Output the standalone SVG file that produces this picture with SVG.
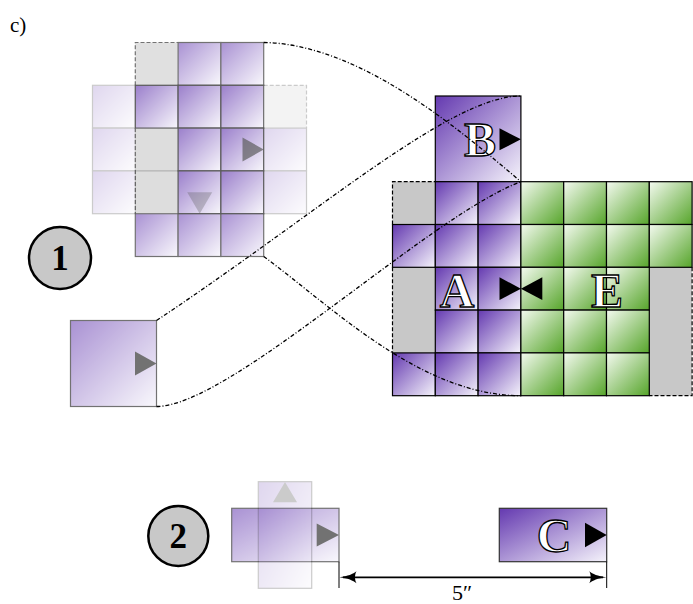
<svg xmlns="http://www.w3.org/2000/svg" width="693" height="604" viewBox="0 0 693 604">
<defs>
<linearGradient id="gP" x1="0" y1="0" x2="1" y2="1"><stop offset="0" stop-color="#6439b0"/><stop offset="1" stop-color="#f5f3fb"/></linearGradient>
<linearGradient id="gG" x1="0" y1="0" x2="1" y2="1"><stop offset="0" stop-color="#f4faf0"/><stop offset="1" stop-color="#56a52a"/></linearGradient>
<style>
.p{fill:url(#gP);stroke:#000;stroke-width:1.2}
.g{fill:url(#gG);stroke:#000;stroke-width:1.2}
.gr{fill:#c8c8c8;stroke:none}
.ds{fill:none;stroke:#000;stroke-width:1.2;stroke-dasharray:4 2}
.tri{fill:#000}
.cn{fill:none;stroke:#000;stroke-width:1.3;stroke-dasharray:4 2 1 2}
.lt{font-family:"Liberation Serif","DejaVu Serif",serif;font-size:48px;font-weight:bold;fill:#fff;stroke:#000;stroke-width:1.3;text-anchor:middle}
.num{font-family:"Liberation Serif","DejaVu Serif",serif;font-size:35px;font-weight:bold;fill:#000;text-anchor:middle}
.circ{fill:#c8c8c8;stroke:#000;stroke-width:2.5}
</style>
</defs>
<rect width="693" height="604" fill="#fff"/>
<text x="10" y="32" font-family="Liberation Serif, DejaVu Serif, serif" font-size="21">c)</text>

<!-- top-left configuration -->
<g id="top-vertical" opacity="0.55">
<rect class="gr" x="135.3" y="42.5" width="42.8" height="42.8"/>
<rect class="gr" x="135.3" y="128.1" width="42.8" height="85.6"/>
<rect class="p" x="178.1" y="42.5" width="42.8" height="42.8"/>
<rect class="p" x="220.9" y="42.5" width="42.8" height="42.8"/>
<rect class="p" x="135.3" y="85.3" width="42.8" height="42.8"/>
<rect class="p" x="178.1" y="85.3" width="42.8" height="42.8"/>
<rect class="p" x="220.9" y="85.3" width="42.8" height="42.8"/>
<rect class="p" x="178.1" y="128.1" width="42.8" height="42.8"/>
<rect class="p" x="220.9" y="128.1" width="42.8" height="42.8"/>
<rect class="p" x="178.1" y="170.9" width="42.8" height="42.8"/>
<rect class="p" x="220.9" y="170.9" width="42.8" height="42.8"/>
<rect class="p" x="135.3" y="213.7" width="42.8" height="42.8"/>
<rect class="p" x="178.1" y="213.7" width="42.8" height="42.8"/>
<rect class="p" x="220.9" y="213.7" width="42.8" height="42.8"/>
<path class="ds" d="M135.3,85.3 V42.5 H178.1 M135.3,128.1 V213.7"/>
<polygon class="tri" points="242.5,137.4 263.7,149.5 242.5,161.6"/>
</g>
<g id="top-horizontal" opacity="0.2">
<rect class="p" x="92.5" y="85.3" width="42.8" height="42.8"/>
<rect class="p" x="135.3" y="85.3" width="42.8" height="42.8"/>
<rect class="p" x="178.1" y="85.3" width="42.8" height="42.8"/>
<rect class="p" x="220.9" y="85.3" width="42.8" height="42.8"/>
<rect class="gr" x="263.7" y="85.3" width="42.8" height="42.8"/>
<path class="ds" d="M263.7,85.3 H306.5 V128.1"/>
<rect class="p" x="92.5" y="128.1" width="42.8" height="42.8"/>
<rect class="gr" x="135.3" y="128.1" width="42.8" height="85.6" fill-opacity="0.5"/>
<rect class="p" x="178.1" y="128.1" width="42.8" height="42.8"/>
<rect class="p" x="220.9" y="128.1" width="42.8" height="42.8"/>
<rect class="p" x="263.7" y="128.1" width="42.8" height="42.8"/>
<rect class="p" x="92.5" y="170.9" width="42.8" height="42.8"/>
<rect class="p" x="178.1" y="170.9" width="42.8" height="42.8"/>
<rect class="p" x="220.9" y="170.9" width="42.8" height="42.8"/>
<rect class="p" x="263.7" y="170.9" width="42.8" height="42.8"/>
<path d="M135.3,170.9 H178.1" stroke="#000" stroke-width="1.2"/>
<polygon class="tri" points="187.2,192.3 212.2,192.3 199.7,213.7"/>
</g>

<g id="circle-1">
<circle class="circ" cx="60" cy="258" r="31"/>
<text class="num" x="60" y="270">1</text>
</g>

<g id="piece-1" opacity="0.55">
<rect class="p" x="70.5" y="320.5" width="86" height="86"/>
<polygon class="tri" points="135,351.5 156.5,363.5 135,375.5"/>
</g>

<!-- main grid -->
<g id="block-B">
<rect class="p" x="435.3" y="96" width="85.6" height="85.7"/>
<polygon class="tri" points="499.5,128.3 520.9,139.3 499.5,150.3"/>
<text class="lt" x="480" y="156">B</text>
</g>
<g id="grid-A">
<rect class="gr" x="392.5" y="181.7" width="42.8" height="42.8"/>
<rect class="gr" x="392.5" y="267.3" width="42.8" height="85.6"/>
<rect class="p" x="435.3" y="181.7" width="42.8" height="42.8"/>
<rect class="p" x="478.1" y="181.7" width="42.8" height="42.8"/>
<rect class="p" x="392.5" y="224.5" width="42.8" height="42.8"/>
<rect class="p" x="435.3" y="224.5" width="42.8" height="42.8"/>
<rect class="p" x="478.1" y="224.5" width="42.8" height="42.8"/>
<rect class="p" x="435.3" y="267.3" width="42.8" height="42.8"/>
<rect class="p" x="478.1" y="267.3" width="42.8" height="42.8"/>
<rect class="p" x="435.3" y="310.1" width="42.8" height="42.8"/>
<rect class="p" x="478.1" y="310.1" width="42.8" height="42.8"/>
<rect class="p" x="392.5" y="352.9" width="42.8" height="42.8"/>
<rect class="p" x="435.3" y="352.9" width="42.8" height="42.8"/>
<rect class="p" x="478.1" y="352.9" width="42.8" height="42.8"/>
<path class="ds" d="M392.5,224.5 V181.7 H435.3 M392.5,267.3 V352.9"/>
<polygon class="tri" points="499.5,277.3 520.9,288.7 499.5,300.1"/>
<text class="lt" x="457" y="307">A</text>
</g>
<g id="grid-E">
<rect class="gr" x="649.3" y="267.3" width="42.8" height="128.4"/>
<rect class="g" x="520.9" y="181.7" width="42.8" height="42.8"/>
<rect class="g" x="563.7" y="181.7" width="42.8" height="42.8"/>
<rect class="g" x="606.5" y="181.7" width="42.8" height="42.8"/>
<rect class="g" x="649.3" y="181.7" width="42.8" height="42.8"/>
<rect class="g" x="520.9" y="224.5" width="42.8" height="42.8"/>
<rect class="g" x="563.7" y="224.5" width="42.8" height="42.8"/>
<rect class="g" x="606.5" y="224.5" width="42.8" height="42.8"/>
<rect class="g" x="649.3" y="224.5" width="42.8" height="42.8"/>
<rect class="g" x="520.9" y="267.3" width="42.8" height="42.8"/>
<rect class="g" x="563.7" y="267.3" width="42.8" height="42.8"/>
<rect class="g" x="606.5" y="267.3" width="42.8" height="42.8"/>
<rect class="g" x="520.9" y="310.1" width="42.8" height="42.8"/>
<rect class="g" x="563.7" y="310.1" width="42.8" height="42.8"/>
<rect class="g" x="606.5" y="310.1" width="42.8" height="42.8"/>
<rect class="g" x="520.9" y="352.9" width="42.8" height="42.8"/>
<rect class="g" x="563.7" y="352.9" width="42.8" height="42.8"/>
<rect class="g" x="606.5" y="352.9" width="42.8" height="42.8"/>
<path class="ds" d="M692.1,267.3 V395.7 H649.3"/>
<polygon class="tri" points="542.3,277.3 520.9,288.7 542.3,300.1"/>
<text class="lt" x="607" y="307">E</text>
</g>

<!-- bottom -->
<g id="circle-2">
<circle class="circ" cx="178.3" cy="536" r="30"/>
<text class="num" x="178.3" y="548">2</text>
</g>
<g id="piece-2-h" opacity="0.55">
<rect class="p" x="231.7" y="508.3" width="107.3" height="53.4"/>
<polygon class="tri" points="316.7,523.5 339,535 316.7,546.5"/>
</g>
<g id="piece-2-v" opacity="0.2">
<rect class="p" x="258.3" y="481.7" width="53.4" height="106.6"/>
<polygon class="tri" points="273,502.3 285,481.9 297,502.3"/>
</g>
<g id="block-C">
<rect x="499.3" y="508.3" width="107.4" height="53.4" fill="url(#gP)" stroke="#333" stroke-width="1.2"/>
<polygon class="tri" points="585,522.8 606.7,535 585,547.2"/>
<text class="lt" x="554" y="552">C</text>
</g>
<g id="dimension">
<path d="M339,561.7 V588 M606.7,561.7 V588" stroke="#000" stroke-width="1"/>
<path d="M343,577.3 H603" stroke="#000" stroke-width="1.8"/>
<path d="M339.5,577.3 C348,576.3 353,574 356.5,571.3 C354.5,574.6 354.5,580 356.5,583.3 C353,580.5 348,578.3 339.5,577.3 Z" fill="#000"/>
<path d="M606.2,577.3 C597.7,578.3 592.7,580.5 589.2,583.3 C591.2,580 591.2,574.6 589.2,571.3 C592.7,574 597.7,576.3 606.2,577.3 Z" fill="#000"/>
<text x="462" y="600" font-family="Liberation Serif, DejaVu Serif, serif" font-size="22" text-anchor="middle">5″</text>
</g>

<g id="connectors">
<path class="cn" d="M263.7,42.5 C360,44 460,130 520.9,181.7"/>
<path class="cn" d="M263.7,256.5 C330,305 420,395.7 520.9,395.7"/>
<path class="cn" d="M156.5,320.5 C320,212 450,96 520.9,96"/>
<path class="cn" d="M156.5,406.5 C230,406.5 430,215 520.9,181.7"/>
</g>
</svg>
